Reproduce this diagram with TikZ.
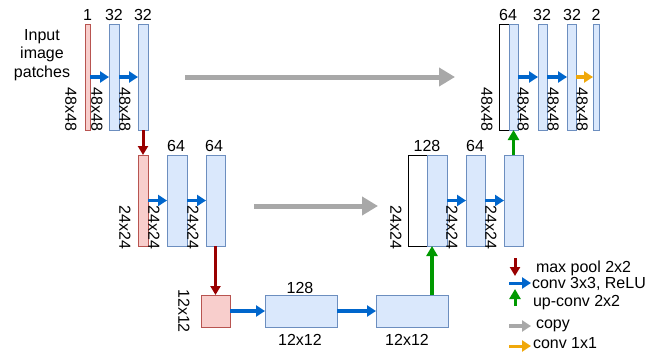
\documentclass[tikz,border=0pt]{standalone}
\usepackage{fontspec}
\setmainfont{Liberation Sans}
\usetikzlibrary{arrows.meta}
\definecolor{bfill}{HTML}{DAE8FC}
\definecolor{bline}{HTML}{6C8EBF}
\definecolor{rfill}{HTML}{F8CECC}
\definecolor{rline}{HTML}{B85450}
\definecolor{cblue}{HTML}{0066CC}
\definecolor{cred}{HTML}{990000}
\definecolor{cgreen}{HTML}{009900}
\definecolor{cgray}{HTML}{A8A8A8}
\definecolor{corange}{HTML}{F0A80A}
\begin{document}
\begin{tikzpicture}[x=1pt,y=-1pt,
  every node/.style={font=\fontsize{16}{18.5}\selectfont, inner sep=0pt, outer sep=0pt},
  bar/.style={draw=bline, fill=bfill, line width=0.9pt},
  redbar/.style={draw=rline, fill=rfill, line width=0.9pt},
  whitebar/.style={draw=black, fill=white, line width=0.9pt},
  conv/.style={draw=cblue, line width=3.5pt, -{Triangle[length=9pt,width=11pt]}},
  conva/.style={draw=corange, line width=3.5pt, -{Triangle[length=9pt,width=11pt]}},
  pool/.style={draw=cred, line width=3pt, -{Triangle[length=9pt,width=10pt]}},
  upconv/.style={draw=cgreen, line width=3.5pt, -{Triangle[length=10pt,width=11pt]}},
  copyarr/.style={draw=cgray, line width=5pt, -{Triangle[length=16pt,width=18pt]}},
  dim/.style={rotate=-90, anchor=east},
  ch/.style={anchor=base},
  legtext/.style={anchor=base west}
]
\useasboundingbox (0,0) rectangle (647,354);

% ---------- level 1 left ----------
\node[redbar, minimum width=5pt, minimum height=106pt] (r1) at (87.5,77) {};
\node[bar, minimum width=10pt, minimum height=106pt] (b1) at (114,77) {};
\node[bar, minimum width=10pt, minimum height=106pt] (b2) at (143,77) {};
\node[ch] (t1) at (87.5,20) {1};
\node[ch] (t2) at (114,20) {32};
\node[ch] (t3) at (143,20) {32};
\node[dim] (d1) at (71,131) {48x48};
\node[dim] (d2) at (97,131) {48x48};
\node[dim] (d3) at (125,131) {48x48};
\node[align=center, anchor=north] (inp) at (42,29) {Input\\image\\patches};

% ---------- level 1 right ----------
\node[whitebar, minimum width=10pt, minimum height=106pt] (w1) at (504,77) {};
\node[bar, minimum width=9pt, minimum height=106pt] (b3) at (513.5,77) {};
\node[bar, minimum width=9pt, minimum height=106pt] (b4) at (542.5,77) {};
\node[bar, minimum width=9pt, minimum height=106pt] (b5) at (571.5,77) {};
\node[bar, minimum width=6pt, minimum height=106pt] (b6) at (596,77) {};
\node[ch] (t4) at (508,20) {64};
\node[ch] (t5) at (542,20) {32};
\node[ch] (t6) at (572,20) {32};
\node[ch] (t7) at (596,20) {2};
\node[dim] (d4) at (487,131) {48x48};
\node[dim] (d5) at (523,131) {48x48};
\node[dim] (d6) at (553,131) {48x48};
\node[dim] (d7) at (582,131) {48x48};

% ---------- level 2 left ----------
\node[redbar, minimum width=10pt, minimum height=91pt] (r2) at (143,200.5) {};
\node[bar, minimum width=20pt, minimum height=91pt] (b7) at (177,200.5) {};
\node[bar, minimum width=19pt, minimum height=91pt] (b8) at (215.5,200.5) {};
\node[ch] (t8) at (176,151) {64};
\node[ch] (t9) at (214,151) {64};
\node[dim] (d8) at (125,249) {24x24};
\node[dim] (d9) at (154,249) {24x24};
\node[dim] (d10) at (193,249) {24x24};

% ---------- level 2 right ----------
\node[whitebar, minimum width=19pt, minimum height=91pt] (w2) at (417.5,200.5) {};
\node[bar, minimum width=20pt, minimum height=91pt] (b9) at (437,200.5) {};
\node[bar, minimum width=19pt, minimum height=91pt] (b10) at (475.5,200.5) {};
\node[bar, minimum width=19pt, minimum height=91pt] (b11) at (513.5,200.5) {};
\node[ch] (t10) at (427,151) {128};
\node[ch] (t11) at (475,151) {64};
\node[dim] (d11) at (396,249) {24x24};
\node[dim] (d12) at (452,249) {24x24};
\node[dim] (d13) at (491,249) {24x24};

% ---------- level 3 ----------
\node[redbar, minimum width=29pt, minimum height=32pt] (r3) at (215.5,311) {};
\node[bar, minimum width=72pt, minimum height=32pt] (b12) at (301,311) {};
\node[bar, minimum width=72pt, minimum height=32pt] (b13) at (412,311) {};
\node[ch] (t12) at (300,293) {128};
\node[ch] (t13) at (300,345) {12x12};
\node[ch] (t14) at (407,345) {12x12};
\node[rotate=-90] (d14) at (184,311) {12x12};

% ---------- connectors ----------
\draw[conv] (r1.east) -- (b1.west);
\draw[conv] (b1.east) -- (b2.west);
\draw[conv] (b3.east) -- (b4.west);
\draw[conv] (b4.east) -- (b5.west);
\draw[conva] (b5.east) -- (b6.west);
\draw[conv] (r2.east) -- (b7.west);
\draw[conv] (b7.east) -- (b8.west);
\draw[conv] (b9.east) -- (b10.west);
\draw[conv] (b10.east) -- (b11.west);
\draw[conv] (r3.east) -- (b12.west);
\draw[conv] (b12.east) -- (b13.west);
\draw[pool] (b2.south) -- (r2.north);
\draw[pool] (b8.south) -- (r3.north);
\draw[upconv] ([xshift=20pt]b13.north) -- ([xshift=20pt]b13.north |- b9.south);
\draw[upconv] (b11.north) -- (b3.south);
\coordinate (c1s) at (185,77);
\coordinate (c1e) at (455,77);
\coordinate (c2s) at (254,206);
\coordinate (c2e) at (378,206);
\draw[copyarr] (c1s) -- (c1e);
\draw[copyarr] (c2s) -- (c2e);

% ---------- legend ----------
\coordinate (l1s) at (515,258);
\coordinate (l1e) at (515,276);
\coordinate (l2s) at (509,283);
\coordinate (l2e) at (531,283);
\coordinate (l3s) at (515,306);
\coordinate (l3e) at (515,289);
\coordinate (l4s) at (509,326);
\coordinate (l4e) at (531,326);
\coordinate (l5s) at (509,346);
\coordinate (l5e) at (531,346);
\draw[pool] (l1s) -- (l1e);
\draw[conv, line width=3pt] (l2s) -- (l2e);
\draw[upconv, line width=3pt] (l3s) -- (l3e);
\draw[copyarr, line width=3.5pt, -{Triangle[length=9pt,width=11pt]}] (l4s) -- (l4e);
\draw[conva, line width=3pt] (l5s) -- (l5e);
\node[legtext] (g1) at (536,272) {max pool 2x2};
\node[legtext] (g2) at (532,288) {conv 3x3, ReLU};
\node[legtext] (g3) at (533,306) {up-conv 2x2};
\node[legtext] (g4) at (536,328) {copy};
\node[legtext] (g5) at (533,348) {conv 1x1};
\end{tikzpicture}
\end{document}
